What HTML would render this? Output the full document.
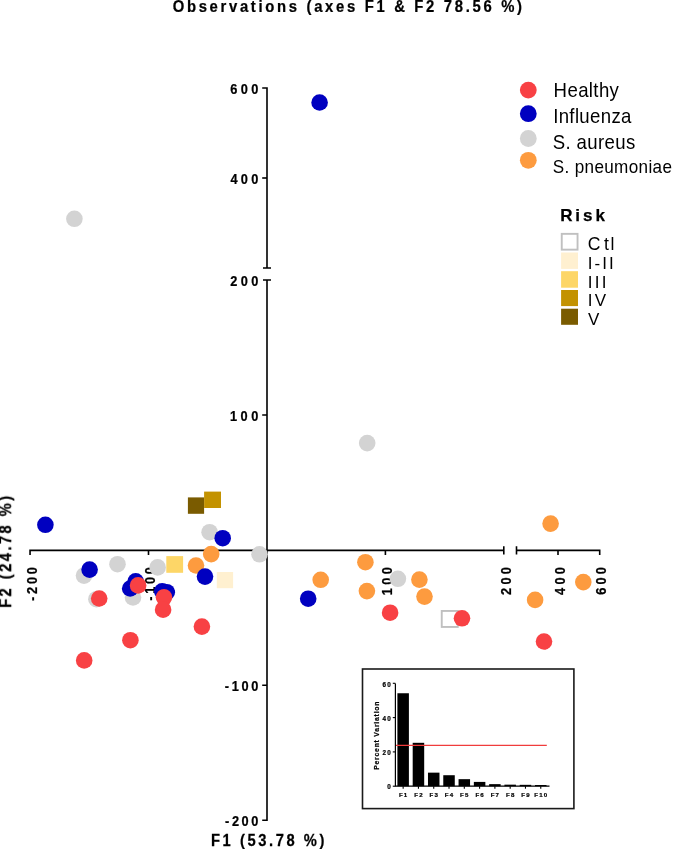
<!DOCTYPE html>
<html><head><meta charset="utf-8"><style>
html,body{margin:0;padding:0;background:#fff;}
svg{display:block;}
text{font-family:"Liberation Sans",sans-serif;fill:#000;}
text[font-weight="bold"]{stroke:#000;stroke-width:0.25px;}
.ins text{stroke:#000;stroke-width:0.22px;fill:#000;}
</style></head><body>
<svg width="685" height="849" viewBox="0 0 685 849">
<path d="M262.2 88 H267 V268 M263 268 H271" stroke="#000" stroke-width="1.6" fill="none"/>
<path d="M262.2 178 H267" stroke="#000" stroke-width="1.6" fill="none"/>
<path d="M263 280 H271 M267 280 V820.2 H262.2 M262.2 415 H267 M262.2 685.2 H267" stroke="#000" stroke-width="1.6" fill="none"/>
<path d="M30.05 555 V550.35 H503.8 M503.8 546.3 V554.6 M148.5 550.35 V555 M385.4 550.35 V555" stroke="#000" stroke-width="1.6" fill="none"/>
<path d="M516.5 546.3 V554.6 M516.5 550.35 H599.7 V555 M558 550.35 V555" stroke="#000" stroke-width="1.6" fill="none"/>
<g style="filter:grayscale(1)"><text transform="translate(172.69,11.90) scale(0.91,1)" font-size="16.3" font-weight="bold" textLength="383.88" lengthAdjust="spacing" >Observations (axes F1 &amp; F2 78.56 %)</text><text transform="translate(230.24,94.00) scale(0.9,1)" font-size="14.2" font-weight="bold" textLength="31.19" lengthAdjust="spacing" >600</text><text transform="translate(230.51,184.00) scale(0.9,1)" font-size="14.2" font-weight="bold" textLength="30.89" lengthAdjust="spacing" >400</text><text transform="translate(230.27,286.00) scale(0.9,1)" font-size="14.2" font-weight="bold" textLength="31.16" lengthAdjust="spacing" >200</text><text transform="translate(229.91,421.00) scale(0.9,1)" font-size="14.2" font-weight="bold" textLength="31.56" lengthAdjust="spacing" >100</text><text transform="translate(224.70,691.20) scale(0.9,1)" font-size="14.2" font-weight="bold" textLength="37.35" lengthAdjust="spacing" >-100</text><text transform="translate(225.10,826.20) scale(0.9,1)" font-size="14.2" font-weight="bold" textLength="36.90" lengthAdjust="spacing" >-200</text><text transform="translate(36.75,600.90) rotate(-90) scale(0.9,1)" font-size="14.2" font-weight="bold" textLength="37.57" lengthAdjust="spacing" >-200</text><text transform="translate(155.20,600.80) rotate(-90) scale(0.9,1)" font-size="14.2" font-weight="bold" textLength="37.46" lengthAdjust="spacing" >-100</text><text transform="translate(392.10,595.29) rotate(-90) scale(0.9,1)" font-size="14.2" font-weight="bold" textLength="31.34" lengthAdjust="spacing" >100</text><text transform="translate(510.50,594.93) rotate(-90) scale(0.9,1)" font-size="14.2" font-weight="bold" textLength="30.94" lengthAdjust="spacing" >200</text><text transform="translate(564.70,594.89) rotate(-90) scale(0.9,1)" font-size="14.2" font-weight="bold" textLength="30.89" lengthAdjust="spacing" >400</text><text transform="translate(606.40,594.66) rotate(-90) scale(0.9,1)" font-size="14.2" font-weight="bold" textLength="30.64" lengthAdjust="spacing" >600</text><text transform="translate(211.03,846.00) scale(0.92,1)" font-size="16" font-weight="bold" textLength="123.25" lengthAdjust="spacing" >F1 (53.78 %)</text><text transform="translate(11.10,607.87) rotate(-90) scale(0.92,1)" font-size="16" font-weight="bold" textLength="121.84" lengthAdjust="spacing" >F2 (24.78 %)</text><text transform="translate(553.62,96.90) scale(0.94,1)" font-size="19.8" font-weight="normal" textLength="69.48" lengthAdjust="spacing" >Healthy</text><text transform="translate(553.19,123.30) scale(0.94,1)" font-size="19.8" font-weight="normal" textLength="83.19" lengthAdjust="spacing" >Influenza</text><text transform="translate(552.66,149.30) scale(0.94,1)" font-size="19.8" font-weight="normal" textLength="87.99" lengthAdjust="spacing" >S. aureus</text><text transform="translate(552.73,173.40) scale(0.94,1)" font-size="18.2" font-weight="normal" textLength="126.84" lengthAdjust="spacing" >S. pneumoniae</text><text transform="translate(560.18,220.80)" font-size="17" font-weight="bold" textLength="44.69" lengthAdjust="spacing" >Risk</text><text x="587.7 603.9 610.6" y="249.8" font-size="17.6">Ctl</text><text transform="translate(587.84,268.50)" font-size="17" font-weight="normal" textLength="25.83" lengthAdjust="spacing" >I-II</text><text transform="translate(587.84,287.60)" font-size="17" font-weight="normal" textLength="18.73" lengthAdjust="spacing" >III</text><text transform="translate(587.84,305.90)" font-size="17" font-weight="normal" textLength="18.33" lengthAdjust="spacing" >IV</text><text transform="translate(588.03,324.50)" font-size="17" font-weight="normal" textLength="11.24" lengthAdjust="spacing" >V</text></g>
<rect x="187.9" y="497.4" width="16.20" height="16.40" fill="#7A5B00"/>
<rect x="204.1" y="491.6" width="16.90" height="16.40" fill="#C39200"/>
<rect x="166.3" y="556.1" width="16.80" height="16.70" fill="#FDD667"/>
<rect x="216.8" y="572" width="16.30" height="16.20" fill="#FFF0D0"/>
<rect x="441.75" y="610.95" width="16" height="16" fill="none" stroke="#C0C0C0" stroke-width="1.9"/>
<circle cx="74.4" cy="218.8" r="8.3" fill="#D3D3D3"/><circle cx="84" cy="575.6" r="8.3" fill="#D3D3D3"/><circle cx="117.5" cy="564.2" r="8.3" fill="#D3D3D3"/><circle cx="96.4" cy="599.2" r="8.3" fill="#D3D3D3"/><circle cx="133" cy="597.5" r="8.3" fill="#D3D3D3"/><circle cx="157.6" cy="567.4" r="8.3" fill="#D3D3D3"/><circle cx="209.6" cy="532.2" r="8.3" fill="#D3D3D3"/><circle cx="259.5" cy="554.3" r="8.3" fill="#D3D3D3"/><circle cx="367.2" cy="443.1" r="8.3" fill="#D3D3D3"/><circle cx="397.9" cy="578.8" r="8.3" fill="#D3D3D3"/><circle cx="211.2" cy="554.1" r="8.3" fill="#FD9B3F"/><circle cx="196" cy="565.5" r="8.3" fill="#FD9B3F"/><circle cx="320.7" cy="579.8" r="8.3" fill="#FD9B3F"/><circle cx="365.4" cy="562.2" r="8.3" fill="#FD9B3F"/><circle cx="366.9" cy="591.1" r="8.3" fill="#FD9B3F"/><circle cx="419.4" cy="579.6" r="8.3" fill="#FD9B3F"/><circle cx="424.5" cy="596.6" r="8.3" fill="#FD9B3F"/><circle cx="550.6" cy="523.6" r="8.3" fill="#FD9B3F"/><circle cx="583.3" cy="582.1" r="8.3" fill="#FD9B3F"/><circle cx="535.1" cy="599.9" r="8.3" fill="#FD9B3F"/><circle cx="319.6" cy="102.5" r="8.3" fill="#0000C0"/><circle cx="45.4" cy="524.8" r="8.3" fill="#0000C0"/><circle cx="89.6" cy="569.6" r="8.3" fill="#0000C0"/><circle cx="130.2" cy="588.5" r="8.3" fill="#0000C0"/><circle cx="135.7" cy="581.3" r="8.3" fill="#0000C0"/><circle cx="162.2" cy="591.3" r="8.3" fill="#0000C0"/><circle cx="166.8" cy="592.2" r="8.3" fill="#0000C0"/><circle cx="205" cy="576.6" r="8.3" fill="#0000C0"/><circle cx="222.7" cy="538.2" r="8.3" fill="#0000C0"/><circle cx="308.2" cy="598.7" r="8.3" fill="#0000C0"/><circle cx="99.2" cy="598.5" r="8.3" fill="#F84144"/><circle cx="138.1" cy="585.4" r="8.3" fill="#F84144"/><circle cx="130.4" cy="640.2" r="8.3" fill="#F84144"/><circle cx="84.2" cy="660.4" r="8.3" fill="#F84144"/><circle cx="164" cy="597.3" r="8.3" fill="#F84144"/><circle cx="163.1" cy="609.7" r="8.3" fill="#F84144"/><circle cx="201.9" cy="626.6" r="8.3" fill="#F84144"/><circle cx="390.1" cy="612.7" r="8.3" fill="#F84144"/><circle cx="462" cy="618.3" r="8.3" fill="#F84144"/><circle cx="544" cy="641.5" r="8.3" fill="#F84144"/>
<circle cx="528.3" cy="90.1" r="8.4" fill="#F84144"/>
<circle cx="528.3" cy="113.7" r="8.4" fill="#0000C0"/>
<circle cx="528.3" cy="138.5" r="8.4" fill="#D3D3D3"/>
<circle cx="528.3" cy="160.3" r="8.4" fill="#FD9B3F"/>
<rect x="561.75" y="233.85" width="15.8" height="15.8" fill="none" stroke="#C0C0C0" stroke-width="1.9"/>
<rect x="561.1" y="252.5" width="16.90" height="16.40" fill="#FFF0D0"/>
<rect x="561.1" y="271.2" width="16.90" height="16.50" fill="#FDD667"/>
<rect x="561.1" y="290" width="16.90" height="16.10" fill="#C39200"/>
<rect x="561.1" y="308.7" width="16.90" height="16.10" fill="#7A5B00"/>
<rect x="362.5" y="669" width="211.4" height="139.6" fill="#fff" stroke="#1a1a1a" stroke-width="1.6"/><path d="M395.4 683.4 V786.2 H549.5" stroke="#000" stroke-width="1.2" fill="none"/><path d="M392.8 786.20 H395.4" stroke="#000" stroke-width="1.1"/><path d="M392.8 751.90 H395.4" stroke="#000" stroke-width="1.1"/><path d="M392.8 717.60 H395.4" stroke="#000" stroke-width="1.1"/><path d="M392.8 683.30 H395.4" stroke="#000" stroke-width="1.1"/><rect x="397.40" y="693.25" width="11.5" height="92.95" fill="#000"/><path d="M403.15 786.2 V788.7" stroke="#000" stroke-width="1.1"/><rect x="412.69" y="742.81" width="11.5" height="43.39" fill="#000"/><path d="M418.44 786.2 V788.7" stroke="#000" stroke-width="1.1"/><rect x="427.98" y="772.65" width="11.5" height="13.55" fill="#000"/><path d="M433.73 786.2 V788.7" stroke="#000" stroke-width="1.1"/><rect x="443.27" y="775.22" width="11.5" height="10.98" fill="#000"/><path d="M449.02 786.2 V788.7" stroke="#000" stroke-width="1.1"/><rect x="458.56" y="779.17" width="11.5" height="7.03" fill="#000"/><path d="M464.31 786.2 V788.7" stroke="#000" stroke-width="1.1"/><rect x="473.85" y="781.91" width="11.5" height="4.29" fill="#000"/><path d="M479.60 786.2 V788.7" stroke="#000" stroke-width="1.1"/><rect x="489.14" y="784.14" width="11.5" height="2.06" fill="#000"/><path d="M494.89 786.2 V788.7" stroke="#000" stroke-width="1.1"/><rect x="504.43" y="784.66" width="11.5" height="1.54" fill="#000"/><path d="M510.18 786.2 V788.7" stroke="#000" stroke-width="1.1"/><rect x="519.72" y="784.83" width="11.5" height="1.37" fill="#000"/><path d="M525.47 786.2 V788.7" stroke="#000" stroke-width="1.1"/><rect x="535.01" y="785.00" width="11.5" height="1.20" fill="#000"/><path d="M540.76 786.2 V788.7" stroke="#000" stroke-width="1.1"/><path d="M396 745.4 H546.8" stroke="#F03C3C" stroke-width="1.1"/>
<g style="filter:grayscale(1)" class="ins"><text x="392" y="788.60" font-weight="bold" font-size="6.3" letter-spacing="1.3" text-anchor="end">0</text><text x="392" y="755.10" font-weight="bold" font-size="6.3" letter-spacing="1.3" text-anchor="end">20</text><text x="392" y="720.80" font-weight="bold" font-size="6.3" letter-spacing="1.3" text-anchor="end">40</text><text x="392" y="686.50" font-weight="bold" font-size="6.3" letter-spacing="1.3" text-anchor="end">60</text><text x="403.70" y="797.3" font-weight="bold" font-size="6.1" letter-spacing="1.2" text-anchor="middle">F1</text><text x="418.99" y="797.3" font-weight="bold" font-size="6.1" letter-spacing="1.2" text-anchor="middle">F2</text><text x="434.28" y="797.3" font-weight="bold" font-size="6.1" letter-spacing="1.2" text-anchor="middle">F3</text><text x="449.57" y="797.3" font-weight="bold" font-size="6.1" letter-spacing="1.2" text-anchor="middle">F4</text><text x="464.86" y="797.3" font-weight="bold" font-size="6.1" letter-spacing="1.2" text-anchor="middle">F5</text><text x="480.15" y="797.3" font-weight="bold" font-size="6.1" letter-spacing="1.2" text-anchor="middle">F6</text><text x="495.44" y="797.3" font-weight="bold" font-size="6.1" letter-spacing="1.2" text-anchor="middle">F7</text><text x="510.73" y="797.3" font-weight="bold" font-size="6.1" letter-spacing="1.2" text-anchor="middle">F8</text><text x="526.02" y="797.3" font-weight="bold" font-size="6.1" letter-spacing="1.2" text-anchor="middle">F9</text><text x="541.31" y="797.3" font-weight="bold" font-size="6.1" letter-spacing="1.2" text-anchor="middle">F10</text><text transform="translate(378.6,735.3) rotate(-90)" font-weight="bold" font-size="6.8" letter-spacing="0.8" text-anchor="middle">Percent Variation</text></g>
</svg>
</body></html>
